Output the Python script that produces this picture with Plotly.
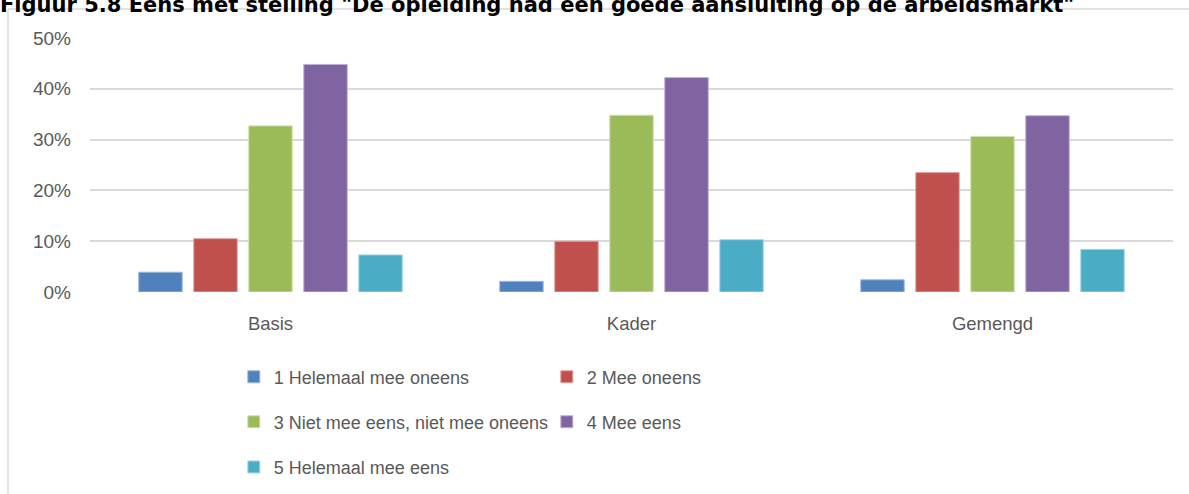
import plotly.graph_objects as go

categories = ["Basis", "Kader", "Gemengd"]
series_names = [
    "1 Helemaal mee oneens",
    "2 Mee oneens",
    "3 Niet mee eens, niet mee oneens",
    "4 Mee eens",
    "5 Helemaal mee eens",
]
helemaal_oneens = [0.039, 0.021, 0.024]
mee_oneens = [0.105, 0.100, 0.235]
neutraal = [0.327, 0.348, 0.306]
mee_eens = [0.448, 0.422, 0.347]
helemaal_eens = [0.073, 0.103, 0.084]
tick_vals = [0, 0.1, 0.2, 0.3, 0.4, 0.5]
tick_text = ["0%", "10%", "20%", "30%", "40%", "50%"]
title_text = 'Figuur 5.8 Eens met stelling "De opleiding had een goede aansluiting op de arbeidsmarkt"'

colors = ["#4F81BD", "#C0504D", "#9BBB59", "#8064A2", "#4BACC6"]
edge_colors = ["#9db7dc", "#e0a3a1", "#cfe0b0", "#bfb0d4", "#a5d6e3"]
values = [helemaal_oneens, mee_oneens, neutraal, mee_eens, helemaal_eens]
legend_ids = ["legend", "legend", "legend2", "legend2", "legend3"]

FONT = "Liberation Sans, Arial, sans-serif"
GREY = "#595959"

fig = go.Figure()
for name, vals, c, ec, lg in zip(series_names, values, colors, edge_colors, legend_ids):
    fig.add_trace(go.Bar(
        x=categories, y=vals, name=name,
        marker=dict(color=c, line=dict(color=ec, width=1)),
        legend=lg,
    ))

leg_common = dict(
    orientation="h", xanchor="left", yanchor="middle",
    font=dict(family=FONT, size=18, color=GREY),
    entrywidth=268, entrywidthmode="pixels",
    bgcolor="rgba(0,0,0,0)", itemclick=False, itemdoubleclick=False,
    tracegroupgap=0,
)

fig.update_layout(
    width=1189, height=494,
    margin=dict(l=90, r=16, t=38, b=202, autoexpand=False),
    paper_bgcolor="white", plot_bgcolor="white",
    barmode="group", bargap=0.238, bargroupgap=0.21,
    font=dict(family=FONT, color=GREY),
    showlegend=True,
    legend=dict(x=0.1328, y=-0.335, **leg_common),
    legend2=dict(x=0.1328, y=-0.512, **leg_common),
    legend3=dict(x=0.1328, y=-0.69, **leg_common),
    xaxis=dict(
        showgrid=False, showline=False, ticks="",
        tickfont=dict(family=FONT, size=18.5, color=GREY),
        ticklabelstandoff=18,
    ),
    yaxis=dict(
        range=[0, 0.5], tickvals=tick_vals, ticktext=tick_text,
        showgrid=True, gridcolor="#d9d9d9", gridwidth=1.5,
        zeroline=False, showline=False, ticks="",
        tickfont=dict(family=FONT, size=19, color=GREY),
        ticklabelstandoff=18,
    ),
    shapes=[
        dict(type="line", xref="paper", yref="paper",
             x0=-0.0757, x1=1.1, y0=1.1142, y1=1.1142,
             line=dict(color="#d9d9d9", width=1.5)),
        dict(type="line", xref="paper", yref="paper",
             x0=-0.0757, x1=-0.0757, y0=1.1142, y1=-0.9,
             line=dict(color="#d9d9d9", width=1.5)),
    ],
    annotations=[
        dict(text="<b>" + title_text + "</b>",
             xref="paper", yref="paper", x=-0.085, y=1.075,
             xanchor="left", yanchor="bottom", showarrow=False,
             font=dict(family="DejaVu Sans, Verdana, sans-serif", size=21, color="black")),
    ],
)

fig.write_html(
    "out.html",
    config={"displayModeBar": False},
    post_script="document.body.style.margin='0';document.body.style.padding='0';",
)
